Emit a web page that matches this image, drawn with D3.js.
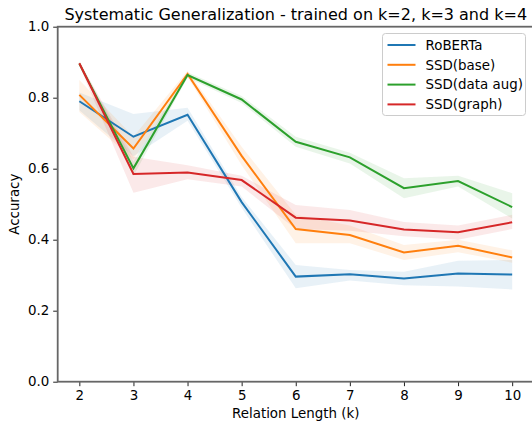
<!DOCTYPE html>
<html>
<head>
<meta charset="utf-8">
<script src="https://cdn.jsdelivr.net/npm/d3@7"></script>
<style>
  body { margin: 0; background: #fff; }
  text { font-family: 'DejaVu Sans', sans-serif; fill: #000; }
</style>
</head>
<body>
<div id="chart"></div>
<script>
// relation lengths on the x axis
const relationLengths = [2, 3, 4, 5, 6, 7, 8, 9, 10]
const seriesNames = ['RoBERTa', 'SSD(base)', 'SSD(data aug)', 'SSD(graph)']
const seriesColors = ['#1f77b4', '#ff7f0e', '#2ca02c', '#d62728']

// mean accuracy per series
const robertaMean = [0.790, 0.690, 0.752, 0.506, 0.296, 0.303, 0.291, 0.305, 0.302]
const ssdBaseMean = [0.808, 0.657, 0.867, 0.636, 0.430, 0.413, 0.364, 0.383, 0.350]
const ssdAugMean = [0.896, 0.601, 0.864, 0.795, 0.676, 0.632, 0.545, 0.565, 0.492]
const ssdGraphMean = [0.897, 0.585, 0.589, 0.568, 0.462, 0.454, 0.429, 0.421, 0.449]

// shaded band (low / high) per series
const robertaLow = [0.765, 0.635, 0.735, 0.49, 0.263, 0.285, 0.272, 0.268, 0.26]
const robertaHigh = [0.815, 0.754, 0.772, 0.52, 0.329, 0.315, 0.31, 0.341, 0.343]
const ssdBaseLow = [0.76, 0.625, 0.858, 0.61, 0.39, 0.39, 0.343, 0.365, 0.335]
const ssdBaseHigh = [0.85, 0.69, 0.876, 0.662, 0.47, 0.44, 0.385, 0.40, 0.37]
const ssdAugLow = [0.89, 0.58, 0.856, 0.785, 0.662, 0.615, 0.517, 0.55, 0.46]
const ssdAugHigh = [0.902, 0.62, 0.872, 0.805, 0.69, 0.645, 0.573, 0.58, 0.531]
const ssdGraphLow = [0.89, 0.532, 0.57, 0.55, 0.43, 0.425, 0.41, 0.40, 0.43]
const ssdGraphHigh = [0.902, 0.634, 0.61, 0.58, 0.498, 0.484, 0.45, 0.44, 0.47]

const yTicks = [0, 0.2, 0.4, 0.6, 0.8, 1.0]

const drawChart = () => {
  const dims = { width: 532, height: 426, left: 57.7, right: 533.8, top: 26.7, bottom: 381.7 }
  const labelSize = 13.4

  const svg = d3.select('#chart')
    .append('svg')
    .attr('width', dims.width)
    .attr('height', dims.height)

  const xScale = d3.scaleLinear().domain([1.6, 10.4]).range([dims.left, dims.right])
  const yScale = d3.scaleLinear().domain([0, 1]).range([dims.bottom, dims.top])

  const series = [
    { mean: robertaMean, low: robertaLow, high: robertaHigh },
    { mean: ssdBaseMean, low: ssdBaseLow, high: ssdBaseHigh },
    { mean: ssdAugMean, low: ssdAugLow, high: ssdAugHigh },
    { mean: ssdGraphMean, low: ssdGraphLow, high: ssdGraphHigh }
  ]

  const plot = svg.append('g')

  // bands first, then lines on top
  const area = d3.area()
    .x((d, i) => xScale(relationLengths[i]))
    .y0((d) => yScale(d[0]))
    .y1((d) => yScale(d[1]))

  series.forEach((s, si) => {
    plot.append('path')
      .datum(s.low.map((v, i) => [v, s.high[i]]))
      .attr('d', area)
      .attr('fill', seriesColors[si])
      .attr('fill-opacity', 0.1)
  })

  const line = d3.line()
    .x((d, i) => xScale(relationLengths[i]))
    .y((d) => yScale(d))

  series.forEach((s, si) => {
    plot.append('path')
      .datum(s.mean)
      .attr('d', line)
      .attr('fill', 'none')
      .attr('stroke', seriesColors[si])
      .attr('stroke-width', 2)
  })

  // axes
  const xAxis = d3.axisBottom(xScale).tickValues(relationLengths).tickSize(4.5).tickPadding(4)
  const yAxis = d3.axisLeft(yScale).tickValues(yTicks).tickFormat(d3.format('.1f')).tickSize(4.5).tickPadding(4)

  const xAxisGroup = svg.append('g')
    .attr('transform', `translate(0, ${dims.bottom})`)
    .call(xAxis)
  const yAxisGroup = svg.append('g')
    .attr('transform', `translate(${dims.left}, 0)`)
    .call(yAxis)

  ;[xAxisGroup, yAxisGroup].forEach((g) => {
    g.select('.domain').remove()
    g.selectAll('.tick line').attr('stroke', '#222').attr('stroke-width', 1)
    g.selectAll('.tick text').attr('font-size', labelSize).attr('font-family', "'DejaVu Sans', sans-serif").attr('fill', '#000')
  })

  // spines
  const spines = svg.append('g').attr('stroke', '#666').attr('stroke-width', 1.8).attr('fill', 'none')
  spines.append('rect')
    .attr('x', dims.left)
    .attr('y', dims.top)
    .attr('width', dims.right - dims.left)
    .attr('height', dims.bottom - dims.top)

  // labels
  svg.append('text')
    .attr('x', (dims.left + dims.right) / 2)
    .attr('y', 19.5)
    .attr('text-anchor', 'middle')
    .attr('font-size', 16)
    .text('Systematic Generalization - trained on k=2, k=3 and k=4')

  svg.append('text')
    .attr('x', (dims.left + dims.right) / 2)
    .attr('y', 418)
    .attr('text-anchor', 'middle')
    .attr('font-size', labelSize)
    .text('Relation Length (k)')

  svg.append('text')
    .attr('transform', `translate(19, ${(dims.top + dims.bottom) / 2}) rotate(-90)`)
    .attr('text-anchor', 'middle')
    .attr('font-size', labelSize)
    .text('Accuracy')

  // legend
  const legend = svg.append('g').attr('transform', 'translate(382.5, 33.5)')
  legend.append('rect')
    .attr('width', 143)
    .attr('height', 82)
    .attr('rx', 3)
    .attr('fill', '#fff')
    .attr('fill-opacity', 0.8)
    .attr('stroke', '#ccc')
    .attr('stroke-width', 1)

  seriesNames.forEach((name, i) => {
    const rowY = 11.5 + i * 19.8
    legend.append('line')
      .attr('x1', 5).attr('x2', 33)
      .attr('y1', rowY).attr('y2', rowY)
      .attr('stroke', seriesColors[i])
      .attr('stroke-width', 2)
    legend.append('text')
      .attr('x', 43)
      .attr('y', rowY + 4.7)
      .attr('font-size', labelSize)
      .text(name)
  })
}

drawChart()
</script>
</body>
</html>
